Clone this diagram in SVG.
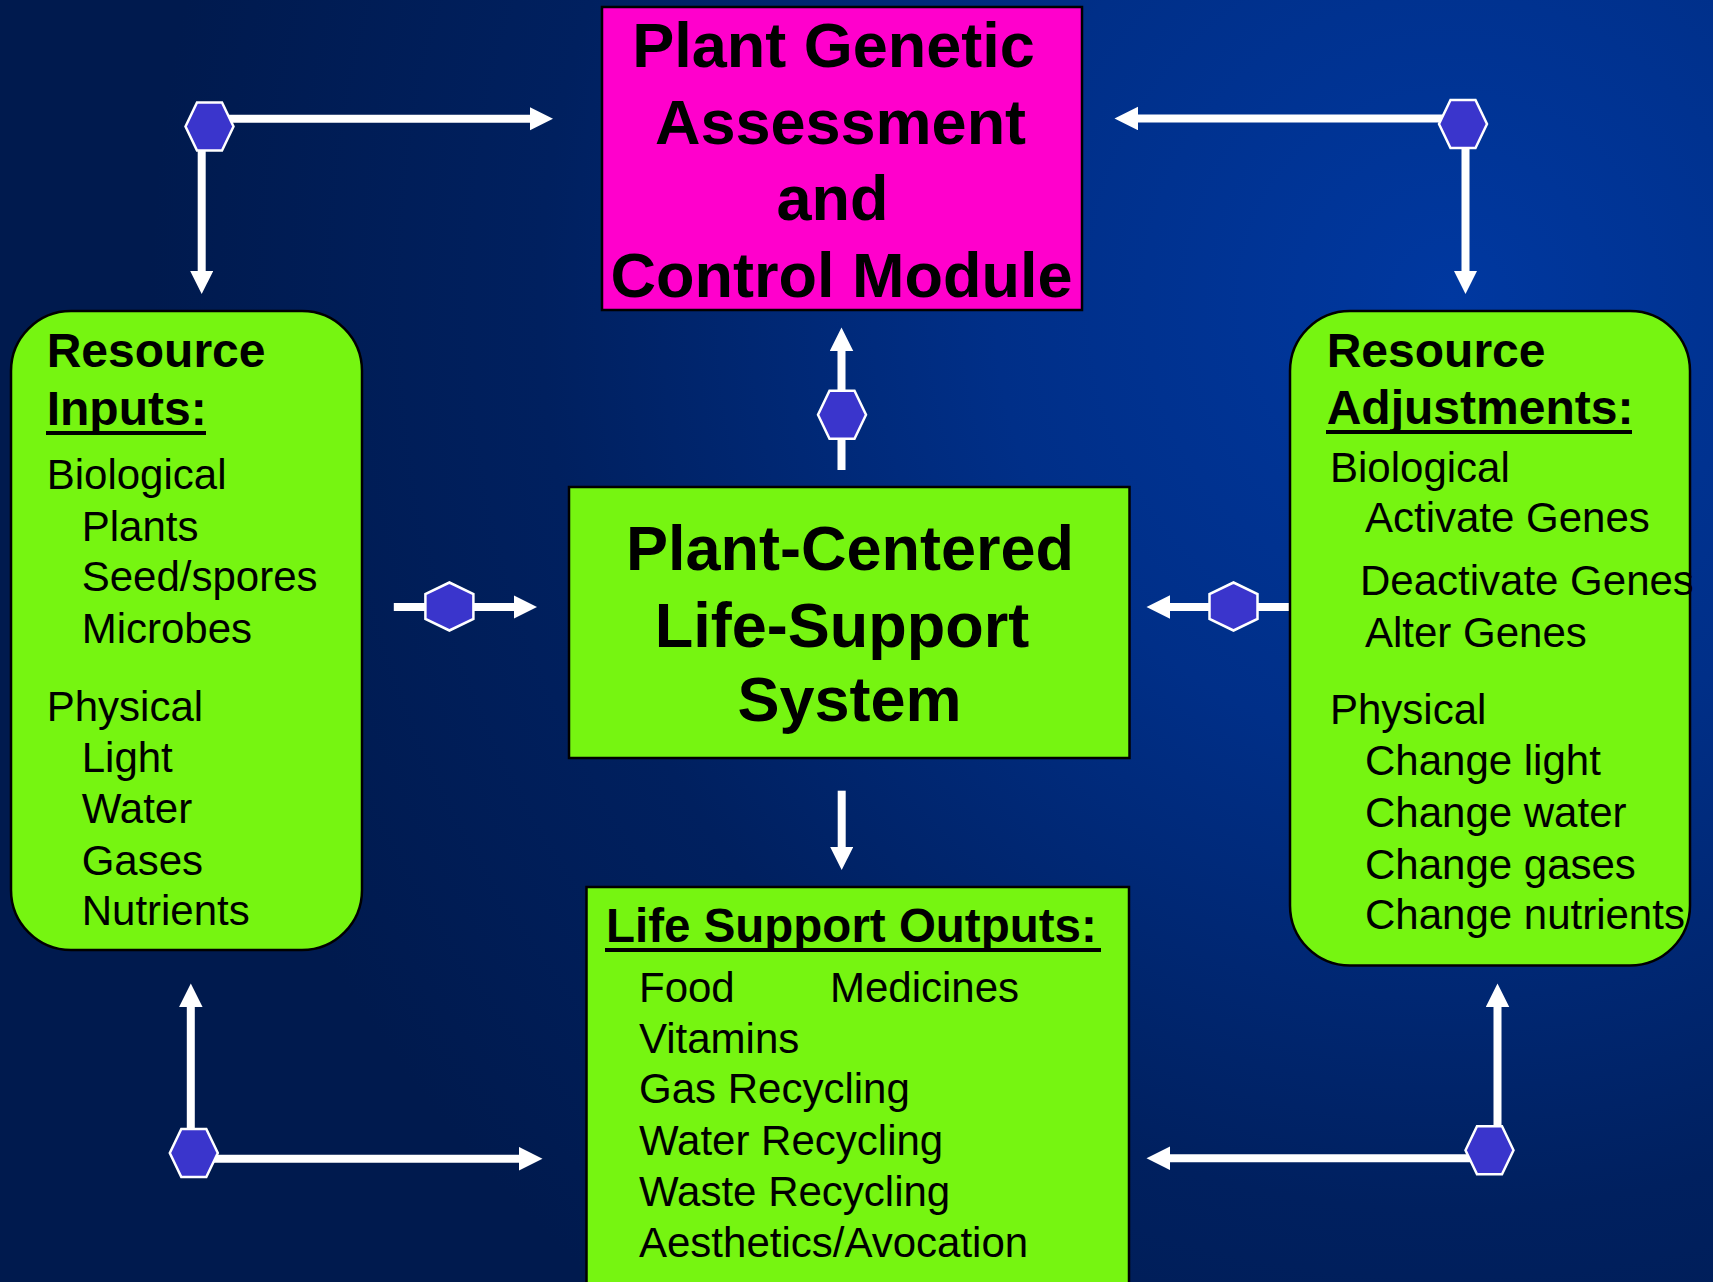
<svg xmlns="http://www.w3.org/2000/svg" xmlns:xlink="http://www.w3.org/1999/xlink" width="1713" height="1282" viewBox="0 0 1713 1282">
<style>
text{font-family:"Liberation Sans",Arial,sans-serif;fill:#000}
.b{font-weight:bold}
.t63{font-size:63px;font-weight:bold;text-anchor:middle}
.h48{font-size:48px;font-weight:bold}
.r42{font-size:42px}
.green{fill:#76f511;stroke:#000;stroke-width:2.5}
.pink{fill:#ff00cc;stroke:#000;stroke-width:2.5}
.ul{stroke:#000;stroke-width:4}
.con{stroke:#fff;stroke-width:8;fill:none;marker-end:url(#ah)}
.hex{fill:#3a35cc;stroke:#fff;stroke-width:2.5}
</style>
<defs>
<radialGradient id="bg" gradientUnits="userSpaceOnUse" cx="1450" cy="300" r="1300">
<stop offset="0" stop-color="#0038a0"/>
<stop offset="0.35" stop-color="#002f88"/>
<stop offset="0.7" stop-color="#00205f"/>
<stop offset="1" stop-color="#001a4e"/>
</radialGradient>
<marker id="ah" markerUnits="userSpaceOnUse" markerWidth="24" markerHeight="24" refX="0.5" refY="11.75" orient="auto" viewBox="0 0 24 24">
<path d="M0,0 L23.5,11.75 L0,23.5 z" fill="#fff"/>
</marker>
<polygon id="hexH" points="-24,0 -12.5,-24 12.5,-24 24,0 12.5,24 -12.5,24"/>
<polygon id="hexV" points="0,-24 24,-12.5 24,12.5 0,24 -24,12.5 -24,-12.5"/>
</defs>
<rect width="1713" height="1282" fill="url(#bg)"/>

<g id="connectors">
<line class="con" x1="220" y1="118.7" x2="530" y2="118.7"/>
<line class="con" x1="201.7" y1="140" x2="201.7" y2="271"/>
<line class="con" x1="1450" y1="118.5" x2="1137.5" y2="118.5"/>
<line class="con" x1="1465.5" y1="140" x2="1465.5" y2="271"/>
<line class="con" x1="841.5" y1="470" x2="841.5" y2="350.5"/>
<line class="con" x1="393.8" y1="607" x2="514" y2="607"/>
<line class="con" x1="1290" y1="607" x2="1169.5" y2="607"/>
<line class="con" x1="841.7" y1="790.7" x2="841.7" y2="847"/>
<line class="con" x1="190.8" y1="1140" x2="190.8" y2="1006.5"/>
<line class="con" x1="205" y1="1158.7" x2="519.5" y2="1158.7"/>
<line class="con" x1="1497.5" y1="1140" x2="1497.5" y2="1006.5"/>
<line class="con" x1="1478" y1="1158.3" x2="1169.5" y2="1158.3"/>
<use xlink:href="#hexH" class="hex" x="209.5" y="126.5"/>
<use xlink:href="#hexH" class="hex" x="1463" y="124"/>
<use xlink:href="#hexH" class="hex" x="842" y="414.8"/>
<use xlink:href="#hexV" class="hex" x="449.4" y="606.5"/>
<use xlink:href="#hexV" class="hex" x="1233.5" y="606.5"/>
<use xlink:href="#hexH" class="hex" x="193.8" y="1153"/>
<use xlink:href="#hexH" class="hex" x="1489.5" y="1150.3"/>
</g>

<g id="node-genetic-module">
<rect class="pink" x="602" y="7" width="480" height="303"/>
<text class="t63" x="833.5" y="67">Plant Genetic</text>
<text class="t63" x="840.5" y="144">Assessment</text>
<text class="t63" x="832.5" y="220">and</text>
<text class="t63" x="841.5" y="297">Control Module</text>
</g>

<g id="node-life-support-system">
<rect class="green" x="569" y="487" width="560.5" height="271"/>
<text class="t63" x="850" y="570">Plant-Centered</text>
<text class="t63" x="842" y="646.7">Life-Support</text>
<text class="t63" x="849.5" y="721">System</text>
</g>

<g id="node-resource-inputs">
<rect class="green" x="11" y="311" width="351" height="639" rx="60" ry="60"/>
<text class="h48" x="46.7" y="367.3">Resource</text>
<text class="h48" x="46.7" y="425">Inputs:</text>
<line class="ul" x1="46" y1="433" x2="206" y2="433"/>
<text class="r42" x="46.7" y="488.5">Biological</text>
<text class="r42" x="81.7" y="540.7">Plants</text>
<text class="r42" x="81.7" y="591.2">Seed/spores</text>
<text class="r42" x="81.7" y="643">Microbes</text>
<text class="r42" x="46.7" y="720.9">Physical</text>
<text class="r42" x="81.7" y="772.2">Light</text>
<text class="r42" x="81.7" y="823.2">Water</text>
<text class="r42" x="81.7" y="874.5">Gases</text>
<text class="r42" x="81.7" y="925">Nutrients</text>
</g>

<g id="node-resource-adjustments">
<rect class="green" x="1290" y="311" width="400" height="654.5" rx="60" ry="60"/>
<text class="h48" x="1326.7" y="367.2">Resource</text>
<text class="h48" x="1326.7" y="423.6">Adjustments:</text>
<line class="ul" x1="1326" y1="432" x2="1632" y2="432"/>
<text class="r42" x="1330" y="482.1">Biological</text>
<text class="r42" x="1365" y="532">Activate Genes</text>
<text class="r42" x="1360" y="594.9">Deactivate Genes</text>
<text class="r42" x="1365" y="646.9">Alter Genes</text>
<text class="r42" x="1330" y="724.1">Physical</text>
<text class="r42" x="1365" y="774.9">Change light</text>
<text class="r42" x="1365" y="826.9">Change water</text>
<text class="r42" x="1365" y="878.9">Change gases</text>
<text class="r42" x="1365" y="928.8">Change nutrients</text>
</g>

<g id="node-life-support-outputs">
<rect class="green" x="586.5" y="887" width="542.5" height="410"/>
<text class="b" x="606" y="941.7" font-size="47.5">Life Support Outputs:</text>
<line class="ul" x1="605" y1="950" x2="1101" y2="950"/>
<text class="r42" x="639" y="1001.7">Food</text>
<text class="r42" x="830" y="1001.7">Medicines</text>
<text class="r42" x="639" y="1052.7">Vitamins</text>
<text class="r42" x="639" y="1103.3">Gas Recycling</text>
<text class="r42" x="639" y="1155">Water Recycling</text>
<text class="r42" x="639" y="1206">Waste Recycling</text>
<text class="r42" x="639" y="1257.3">Aesthetics/Avocation</text>
</g>
</svg>
